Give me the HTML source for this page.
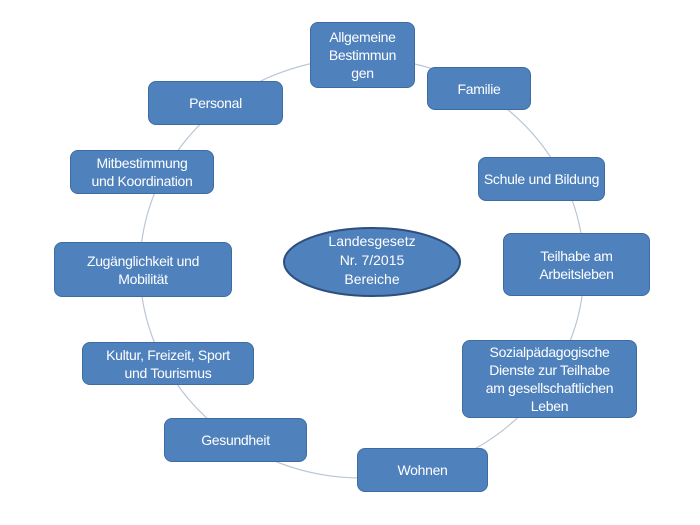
<!DOCTYPE html>
<html><head><meta charset="utf-8"><style>
body{margin:0;width:700px;height:525px;background:#fff;position:relative;overflow:hidden;font-family:"Liberation Sans",sans-serif}
.b{position:absolute;background:#4f81bd;border:1px solid #3d6ca3;border-radius:8px;color:#fff;font-size:14px;line-height:18px;display:flex;align-items:center;justify-content:center;text-align:center;box-sizing:border-box;letter-spacing:-0.3px}
svg{position:absolute;left:0;top:0}
</style></head><body>
<svg width="700" height="525"><ellipse cx="362" cy="268" rx="222" ry="210" fill="none" stroke="#b9c6d6" stroke-width="1.2"/>
<ellipse cx="372" cy="262" rx="88" ry="34" fill="#4f81bd" stroke="#2c4f7c" stroke-width="2"/>
<text x="372" y="246" fill="#fff" font-size="14" text-anchor="middle" font-family="Liberation Sans">Landesgesetz</text>
<text x="372" y="265" fill="#fff" font-size="14" text-anchor="middle" font-family="Liberation Sans">Nr. 7/2015</text>
<text x="372" y="284" fill="#fff" font-size="14" text-anchor="middle" font-family="Liberation Sans">Bereiche</text>
</svg>
<div class="b" style="left:310px;top:22px;width:105px;height:66px">Allgemeine<br>Bestimmun<br>gen</div>
<div class="b" style="left:427px;top:67px;width:104px;height:43px">Familie</div>
<div class="b" style="left:478px;top:157px;width:127px;height:44px">Schule und Bildung</div>
<div class="b" style="left:503px;top:233px;width:147px;height:63px">Teilhabe am<br>Arbeitsleben</div>
<div class="b" style="left:462px;top:340px;width:175px;height:78px">Sozialpädagogische<br>Dienste zur Teilhabe<br>am gesellschaftlichen<br>Leben</div>
<div class="b" style="left:357px;top:448px;width:131px;height:44px">Wohnen</div>
<div class="b" style="left:164px;top:418px;width:143px;height:44px">Gesundheit</div>
<div class="b" style="left:82px;top:342px;width:172px;height:43px">Kultur, Freizeit, Sport<br>und Tourismus</div>
<div class="b" style="left:54px;top:242px;width:178px;height:55px">Zugänglichkeit und<br>Mobilität</div>
<div class="b" style="left:70px;top:150px;width:144px;height:44px">Mitbestimmung<br>und Koordination</div>
<div class="b" style="left:148px;top:81px;width:135px;height:44px">Personal</div>
</body></html>
